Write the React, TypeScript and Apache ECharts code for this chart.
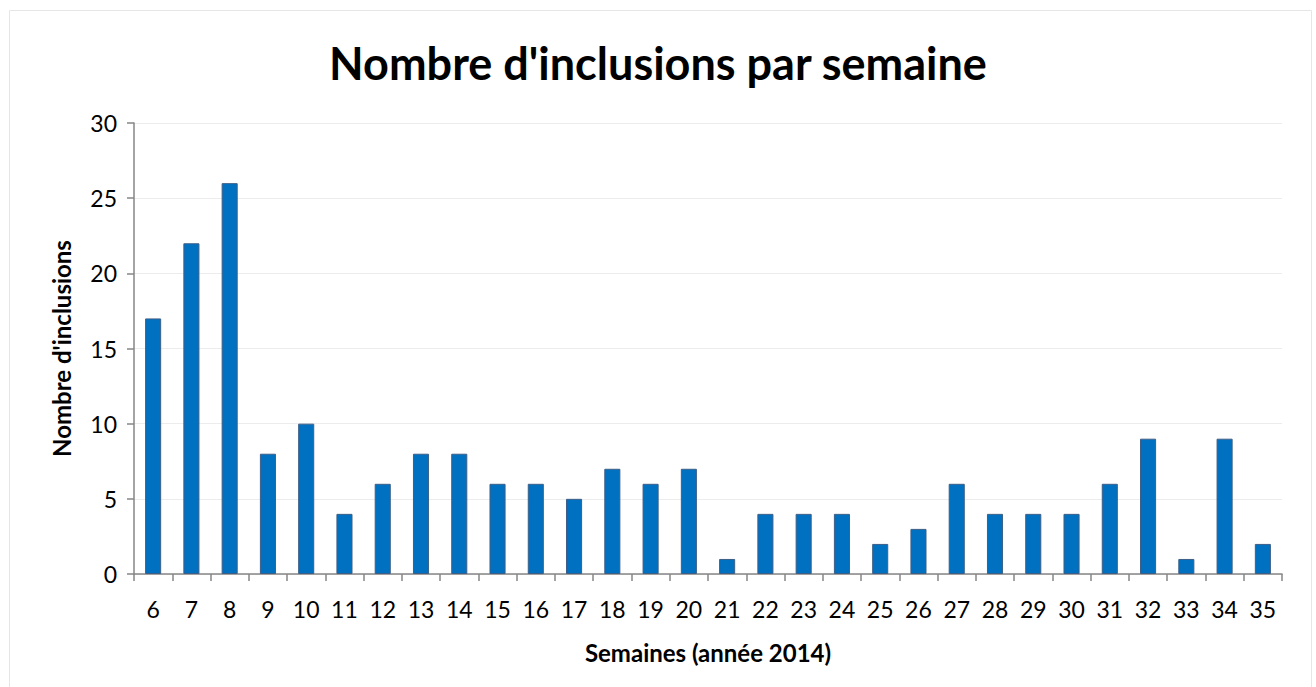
import React, { useEffect, useRef } from "react";
import * as echarts from "echarts";

const weeks = ["6","7","8","9","10","11","12","13","14","15","16","17","18","19","20","21","22","23","24","25","26","27","28","29","30","31","32","33","34","35"];
const inclusions = [17,22,26,8,10,4,6,8,8,6,6,5,7,6,7,1,4,4,4,2,3,6,4,4,4,6,9,1,9,2];
const yTicks = [0, 5, 10, 15, 20, 25, 30];

const FONT = "Lato, 'Open Sans', sans-serif";

export default function App() {
  const ref = useRef<HTMLDivElement>(null);
  useEffect(() => {
    if (!ref.current) return;
    const chart = echarts.init(ref.current, null, { renderer: "svg" });
    chart.setOption({
      animation: false,
      backgroundColor: "#ffffff",
      graphic: [
        {
          type: "rect",
          shape: { x: 9.5, y: 10.5, width: 1302, height: 680 },
          style: { fill: "none", stroke: "#e6e6e6", lineWidth: 1 },
          silent: true,
        },
      ],
      title: {
        text: "Nombre d'inclusions par semaine",
        left: "center",
        top: 35,
        textStyle: { fontFamily: FONT, fontWeight: "bold", fontSize: 45, color: "#000" },
      },
      grid: { left: 134, right: 34, top: 123, bottom: 113, containLabel: false },
      xAxis: {
        type: "category",
        data: weeks,
        name: "Semaines (année 2014)",
        nameLocation: "middle",
        nameGap: 66,
        nameTextStyle: { fontFamily: FONT, fontWeight: "bold", fontSize: 24, color: "#000" },
        axisLine: { lineStyle: { color: "#868686", width: 1.5 } },
        axisTick: { show: true, alignWithLabel: false, length: 7, lineStyle: { color: "#868686", width: 1.5 } },
        axisLabel: { fontFamily: FONT, fontSize: 23, color: "#000", margin: 23, interval: 0 },
      },
      yAxis: {
        type: "value",
        min: 0,
        max: 30,
        interval: 5,
        name: "Nombre d'inclusions",
        nameLocation: "middle",
        nameGap: 61,
        nameRotate: 90,
        nameTextStyle: { fontFamily: FONT, fontWeight: "bold", fontSize: 24, color: "#000" },
        axisLine: { show: true, lineStyle: { color: "#868686", width: 1.5 } },
        axisTick: { show: true, length: 7, lineStyle: { color: "#868686", width: 1.5 } },
        axisLabel: {
          fontFamily: FONT,
          fontSize: 23,
          color: "#000",
          margin: 17,
          formatter: (v: number) => (yTicks.includes(v) ? String(v) : ""),
        },
        splitLine: { show: true, lineStyle: { color: "#ececec", width: 1 } },
      },
      series: [
        {
          type: "bar",
          data: inclusions,
          barWidth: "42%",
          itemStyle: { color: "#0070C0", borderColor: "#3d5f87", borderWidth: 1 },
        },
      ],
    });
    return () => chart.dispose();
  }, []);
  return (
    <div
      ref={ref}
      style={{ position: "absolute", left: 0, top: 0, width: 1316, height: 687 }}
    />
  );
}
